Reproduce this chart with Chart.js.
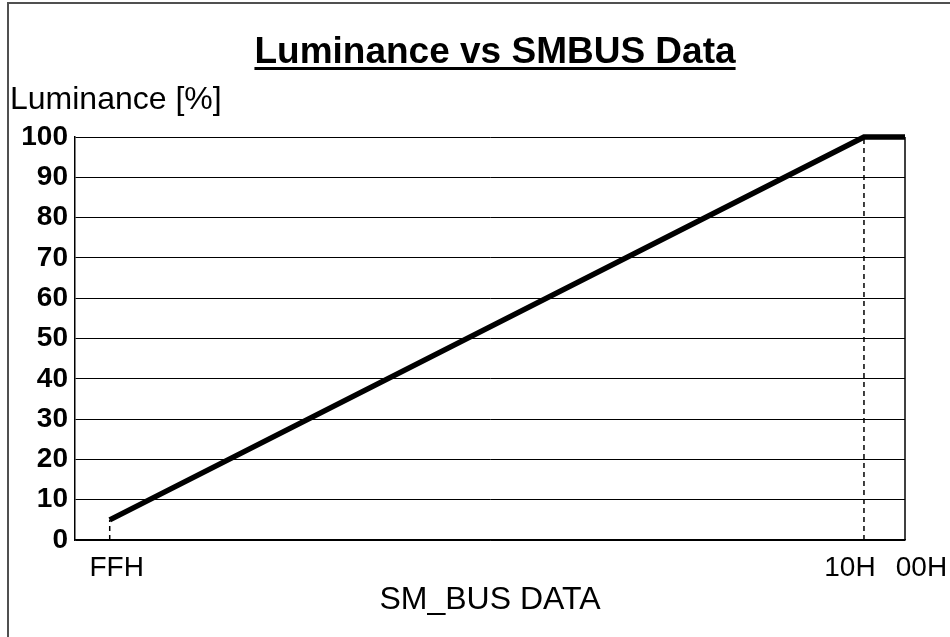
<!DOCTYPE html>
<html>
<head>
<meta charset="utf-8">
<title>Luminance vs SMBUS Data</title>
<script src="https://cdn.jsdelivr.net/npm/chart.js@4/dist/chart.umd.min.js"></script>
<style>
    body { margin: 0; background: #fff; }
    #wrap { width: 950px; height: 637px; }
</style>
</head>
<body>
<div id="wrap"><canvas id="lumChart" width="950" height="637"></canvas></div>
<script>
// SMBus code on the x axis (hex), luminance in percent on the y axis
const xLabels = ['FFH', '10H', '00H'];
const xCodes = [255, 16, 0];
const luminance = [5, 100, 100];
const yTicks = [0, 10, 20, 30, 40, 50, 60, 70, 80, 90, 100];

const chartTitle = 'Luminance vs SMBUS Data';
const yTitle = 'Luminance [%]';
const xTitle = 'SM_BUS DATA';

const FONT = "'Liberation Sans', Arial, sans-serif";

// dashed drop lines under FFH and 10H
const markers = xCodes.slice(0, 2).map((code, i) => ({
    data: [{ x: code, y: 0 }, { x: code, y: luminance[i] }],
    borderColor: '#000',
    borderWidth: 1.5,
    borderDash: [5, 4],
    pointRadius: 0,
    fill: false
}));

// title, underline, y label and the outer frame
const decorPlugin = {
    id: 'decor',
    afterDraw(chart) {
        const ctx = chart.ctx;
        const area = chart.chartArea;
        ctx.save();

        // frame: only top and left edges show
        ctx.strokeStyle = '#505050';
        ctx.lineWidth = 2;
        ctx.beginPath();
        ctx.moveTo(8, 637);
        ctx.lineTo(8, 3);
        ctx.lineTo(950, 3);
        ctx.stroke();

        // right border of the plot box
        ctx.strokeStyle = '#000';
        ctx.lineWidth = 1.5;
        ctx.beginPath();
        ctx.moveTo(area.right, area.top);
        ctx.lineTo(area.right, area.bottom);
        ctx.stroke();

        ctx.fillStyle = '#000';
        ctx.textBaseline = 'alphabetic';

        ctx.font = 'bold 37px ' + FONT;
        ctx.textAlign = 'center';
        ctx.fillText(chartTitle, 495, 63);
        const w = ctx.measureText(chartTitle).width;
        ctx.fillRect(495 - w / 2, 67, w, 3);

        ctx.font = '32px ' + FONT;
        ctx.textAlign = 'left';
        ctx.fillText(yTitle, 10, 109);

        ctx.restore();
    }
};

const ctx = document.getElementById('lumChart').getContext('2d');
new Chart(ctx, {
    type: 'line',
    data: {
        datasets: [
            {
                data: xCodes.map((c, i) => ({ x: c, y: luminance[i] })),
                borderColor: '#000',
                borderWidth: 5.5,
                pointRadius: 0,
                tension: 0,
                fill: false,
                clip: { left: 0, top: 6, right: 0, bottom: 0 }
            },
            ...markers
        ]
    },
    options: {
        responsive: false,
        animation: false,
        events: [],
        layout: { padding: { left: 0, top: 137, right: 45, bottom: 0 } },
        plugins: {
            legend: { display: false },
            title: { display: false },
            tooltip: { enabled: false }
        },
        scales: {
            x: {
                type: 'linear',
                reverse: true,
                min: 3,
                max: 266,
                afterFit(scale) { scale.height = 97; },
                afterBuildTicks(scale) {
                    scale.ticks = xCodes.map(v => ({ value: v }));
                },
                grid: { display: false },
                border: { display: true, color: '#000', width: 1.5 },
                ticks: {
                    autoSkip: false,
                    maxRotation: 0,
                    minRotation: 0,
                    padding: 3,
                    color: '#000',
                    font: { family: FONT, size: 28 },
                    // labels sit a little off their lines in the original
                    callback: (value) => {
                        const i = xCodes.indexOf(value);
                        return i === 1 ? xLabels[i] + '\u2002\u2002' : '\u2002' + xLabels[i];
                    }
                },
                title: {
                    display: true,
                    text: xTitle,
                    color: '#000',
                    font: { family: FONT, size: 32 },
                    padding: { top: 0, bottom: 18 }
                }
            },
            y: {
                min: 0,
                max: 100,
                afterFit(scale) { scale.width = 75; },
                afterBuildTicks(scale) {
                    scale.ticks = yTicks.map(v => ({ value: v }));
                },
                grid: { color: '#000', lineWidth: 1, drawTicks: false },
                border: { display: true, color: '#000', width: 1.5 },
                ticks: {
                    padding: 7,
                    color: '#000',
                    font: { family: FONT, size: 28, weight: 'bold' }
                }
            }
        }
    },
    plugins: [decorPlugin]
});
</script>
</body>
</html>
